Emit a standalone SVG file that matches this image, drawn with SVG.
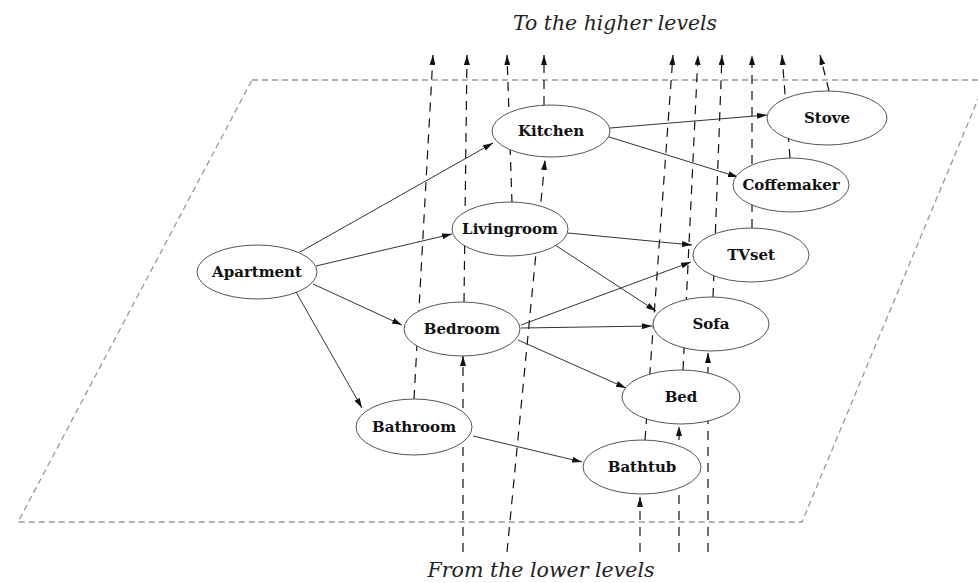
<svg xmlns="http://www.w3.org/2000/svg" width="978" height="583" viewBox="0 0 978 583">
<defs>
<marker id="ah" viewBox="0 0 10 6" refX="10" refY="3" markerWidth="10" markerHeight="6" markerUnits="userSpaceOnUse" orient="auto">
<path d="M0,0 L10,3 L0,6 z" fill="#111"/>
</marker>
<style>
.plane{fill:none;stroke:#999;stroke-width:1.3;stroke-dasharray:6 4}
.lvl{fill:none;stroke:#111;stroke-width:1.2;stroke-dasharray:9 7}
.edge{fill:none;stroke:#333;stroke-width:1;marker-end:url(#ah)}
.node ellipse{fill:#fff;stroke:#555;stroke-width:1}
.node text{font-family:"DejaVu Serif","Liberation Serif",serif;font-weight:bold;font-size:15px;fill:#111;text-anchor:middle}
.cap{font-family:"DejaVu Serif","Liberation Serif",serif;font-style:italic;font-size:20px;fill:#222;text-anchor:middle}
</style>
</defs>
<rect width="978" height="583" fill="#fff"/>
<polygon class="plane" points="252,80 986,80 802,522 18,522"/>
<text class="cap" x="615" y="30" textLength="204" lengthAdjust="spacingAndGlyphs">To the higher levels</text>
<text class="cap" x="541" y="577" textLength="227" lengthAdjust="spacingAndGlyphs">From the lower levels</text>
<g id="connectors">
<g id="levels">
<path class="lvl" d="M414,399 L433,55" marker-end="url(#ah)"/>
<path class="lvl" d="M464,302 L467,55" marker-end="url(#ah)"/>
<path class="lvl" d="M463,552 L463,356" marker-end="url(#ah)"/>
<path class="lvl" d="M512,203 L507,55" marker-end="url(#ah)"/>
<path class="lvl" d="M507,552 L545,160" marker-end="url(#ah)"/>
<path class="lvl" d="M544,105 L544,55" marker-end="url(#ah)"/>
<path class="lvl" d="M645,440 L673,55" marker-end="url(#ah)"/>
<path class="lvl" d="M640,552 L640,497" marker-end="url(#ah)"/>
<path class="lvl" d="M683,370 L698,55" marker-end="url(#ah)"/>
<path class="lvl" d="M679,552 L679,426" marker-end="url(#ah)"/>
<path class="lvl" d="M713,297 L722,55" marker-end="url(#ah)"/>
<path class="lvl" d="M708,552 L708,353" marker-end="url(#ah)"/>
<path class="lvl" d="M752,228 L752,55" marker-end="url(#ah)"/>
<path class="lvl" d="M790,158 L782,55" marker-end="url(#ah)"/>
<path class="lvl" d="M829,91 L820,55" marker-end="url(#ah)"/>
</g>
<path class="edge" d="M300,252 L493,143"/>
<path class="edge" d="M316,266 L452,234"/>
<path class="edge" d="M313,284 L402,325"/>
<path class="edge" d="M296,292 L362,408"/>
<path class="edge" d="M610,128 L767,115"/>
<path class="edge" d="M606,136 L738,177"/>
<path class="edge" d="M568,233 L692,245"/>
<path class="edge" d="M555,245 L656,311"/>
<path class="edge" d="M521,325 L691,262"/>
<path class="edge" d="M521,328 L652,326"/>
<path class="edge" d="M518,340 L626,388"/>
<path class="edge" d="M473,436 L582,462"/>
</g>
<g id="kitchen" class="node"><ellipse cx="551" cy="131" rx="59" ry="26"/><text x="551" y="136">Kitchen</text></g>
<g id="stove" class="node"><ellipse cx="827" cy="118" rx="60" ry="27"/><text x="827" y="123">Stove</text></g>
<g id="coffemaker" class="node"><ellipse cx="791" cy="185" rx="58" ry="27"/><text x="791" y="190">Coffemaker</text></g>
<g id="livingroom" class="node"><ellipse cx="510" cy="229" rx="58" ry="27"/><text x="510" y="234">Livingroom</text></g>
<g id="tvset" class="node"><ellipse cx="751" cy="255" rx="58" ry="27"/><text x="751" y="260">TVset</text></g>
<g id="apartment" class="node"><ellipse cx="257" cy="272" rx="60" ry="27"/><text x="257" y="277">Apartment</text></g>
<g id="bedroom" class="node"><ellipse cx="462" cy="329" rx="58" ry="27"/><text x="462" y="334">Bedroom</text></g>
<g id="sofa" class="node"><ellipse cx="711" cy="324" rx="58" ry="27"/><text x="711" y="329">Sofa</text></g>
<g id="bed" class="node"><ellipse cx="681" cy="397" rx="59" ry="27"/><text x="681" y="402">Bed</text></g>
<g id="bathroom" class="node"><ellipse cx="414" cy="427" rx="58" ry="28"/><text x="414" y="432">Bathroom</text></g>
<g id="bathtub" class="node"><ellipse cx="642" cy="467" rx="59" ry="27"/><text x="642" y="472">Bathtub</text></g>
</svg>
